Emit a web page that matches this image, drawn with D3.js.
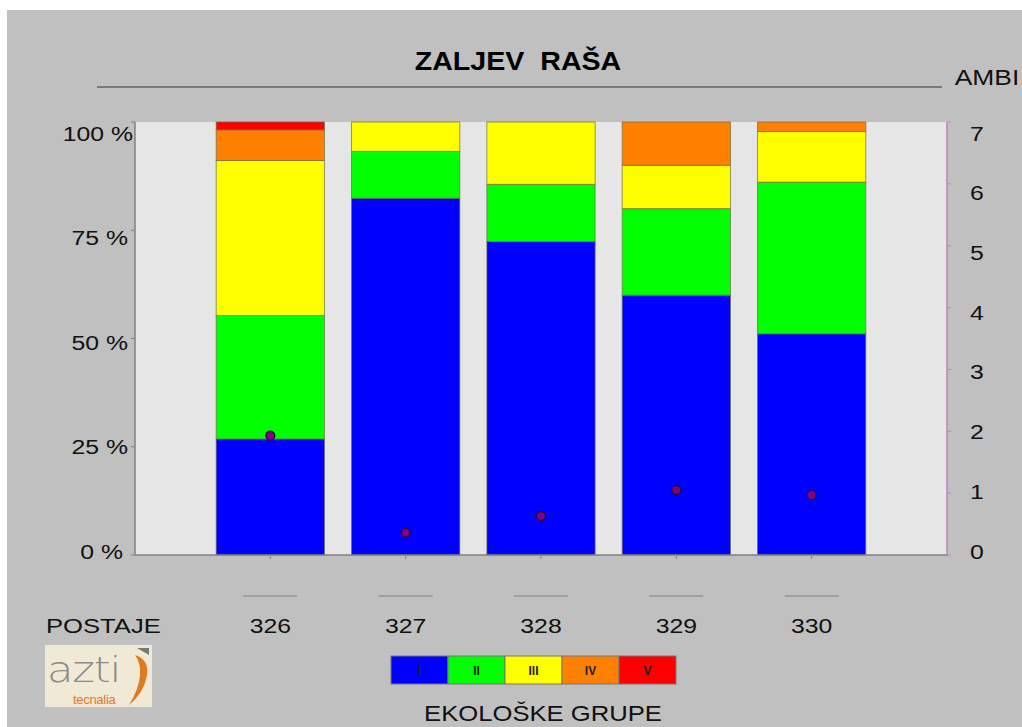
<!DOCTYPE html>
<html>
<head>
<meta charset="utf-8">
<script src="https://cdn.jsdelivr.net/npm/d3@7"></script>
<style>
  html, body { margin: 0; padding: 0; background: #ffffff; }
  svg { display: block; font-family: "Liberation Sans", Arial, sans-serif; }
  text { white-space: pre; }
</style>
</head>
<body>
<svg id="chart" width="1022" height="727"></svg>
<script>
// Stations (POSTAJE)
const stations = ["326", "327", "328", "329", "330"];
// Ecological groups, share of abundance (%) per station
const groups = ["I", "II", "III", "IV", "V"];
const groupColors = ["#0000ff", "#00ff00", "#ffff00", "#ff8000", "#ff0000"];
const groupI   = [26.8, 82.4, 72.4, 60.0, 51.1];
const groupII  = [28.5, 10.8, 13.2, 20.0, 35.0];
const groupIII = [35.8,  6.8, 14.4, 10.0, 11.7];
const groupIV  = [ 7.1,  0.0,  0.0, 10.0,  2.2];
const groupV   = [ 1.8,  0.0,  0.0,  0.0,  0.0];
// AMBI index per station
const ambi = [1.93, 0.36, 0.63, 1.05, 0.97];
// Axis ticks
const pctTicks = [0, 25, 50, 75, 100];
const ambiTicks = [0, 1, 2, 3, 4, 5, 6, 7];

const svg = d3.select("#chart");
const SX = 1.18; // the chart's lettering is set slightly wide

// Places a horizontally widened text at (x, y)
function wideText(parent, x, y, str, size, anchor, sx) {
  return parent.append("text")
    .attr("transform", `translate(${x},${y}) scale(${sx || SX},1)`)
    .attr("text-anchor", anchor || "start")
    .attr("font-size", size)
    .attr("fill", "#111")
    .text(str);
}

// Panel background
svg.append("rect").attr("x", 7).attr("y", 10).attr("width", 1015).attr("height", 717)
  .attr("fill", "#c0c0c0");

const plot = { left: 135, right: 947, top: 122, bottom: 555 };

const x = d3.scalePoint().domain(stations).range([plot.left, plot.right]).padding(1);
const barW = x.step() * 0.8;
const y = d3.scaleLinear().domain([0, 100]).range([plot.bottom, plot.top]);
const yA = d3.scaleLinear().domain([0, 7]).range([plot.bottom, plot.top]);
// Tick labels are spread over a slightly tighter band than the ticks themselves
const yLabP = d3.scaleLinear().domain([0, 100]).range([551, 133]);
const yLabA = d3.scaleLinear().domain([0, 7]).range([551, 133]);

// Plot area
svg.append("rect")
  .attr("x", plot.left).attr("y", plot.top)
  .attr("width", plot.right - plot.left).attr("height", plot.bottom - plot.top)
  .attr("fill", "#e6e6e6");

// Stacked bars
const rows = stations.map((s, i) => ({
  station: s, I: groupI[i], II: groupII[i], III: groupIII[i], IV: groupIV[i], V: groupV[i]
}));
const stack = d3.stack().keys(groups)(rows);

const layers = svg.append("g").selectAll("g").data(stack).join("g")
  .attr("fill", (d, i) => groupColors[i]);
layers.selectAll("rect").data(d => d.filter(p => p[1] - p[0] > 0)).join("rect")
  .attr("x", d => x(d.data.station) - barW / 2)
  .attr("width", barW)
  .attr("y", d => y(d[1]))
  .attr("height", d => y(d[0]) - y(d[1]))
  .attr("stroke", "#6e6e46")
  .attr("stroke-width", 1)
  .attr("stroke-opacity", 0.7);

// Left percentage axis
const gL = svg.append("g");
gL.append("line").attr("x1", plot.left).attr("x2", plot.left)
  .attr("y1", plot.top).attr("y2", plot.bottom).attr("stroke", "#808080").attr("stroke-width", 1.5);
gL.selectAll("line.t").data(pctTicks).join("line").attr("class", "t")
  .attr("x1", plot.left - 4).attr("x2", plot.left)
  .attr("y1", d => y(d)).attr("y2", d => y(d)).attr("stroke", "#808080");
pctTicks.forEach(d => {
  const xr = d === 100 ? 133 : (d === 0 ? 123 : 128);
  wideText(gL, xr, yLabP(d) + 7.5, d + " %", 21, "end");
});

// Right AMBI axis
const gR = svg.append("g");
gR.append("line").attr("x1", plot.right).attr("x2", plot.right)
  .attr("y1", plot.top).attr("y2", plot.bottom).attr("stroke", "#c080c0").attr("stroke-width", 1.5);
gR.selectAll("line.t").data(ambiTicks).join("line").attr("class", "t")
  .attr("x1", plot.right).attr("x2", plot.right + 4)
  .attr("y1", d => yA(d)).attr("y2", d => yA(d)).attr("stroke", "#c080c0");
ambiTicks.forEach(d => wideText(gR, 977, yLabA(d) + 7.5, String(d), 21, "middle"));

// Bottom axis
const gB = svg.append("g");
gB.append("line").attr("x1", plot.left).attr("x2", plot.right)
  .attr("y1", plot.bottom).attr("y2", plot.bottom).attr("stroke", "#808080").attr("stroke-width", 1.5);
gB.selectAll("line.t").data(stations).join("line").attr("class", "t")
  .attr("x1", d => x(d)).attr("x2", d => x(d))
  .attr("y1", plot.bottom).attr("y2", plot.bottom + 4).attr("stroke", "#808080");

// AMBI points
svg.append("g").selectAll("circle").data(stations).join("circle")
  .attr("cx", d => x(d))
  .attr("cy", (d, i) => yA(ambi[i]))
  .attr("r", 4.5)
  .attr("fill", "#800080")
  .attr("stroke", "#1a0a2a")
  .attr("stroke-width", 1.2);

// Title
wideText(svg, 518, 70, "ZALJEV  RAŠA", 26, "middle", 1.1)
  .attr("font-weight", "bold").attr("fill", "#000");
svg.append("line").attr("x1", 97).attr("x2", 942).attr("y1", 87).attr("y2", 87)
  .attr("stroke", "#333").attr("stroke-width", 1.2);
wideText(svg, 987, 85, "AMBI", 22, "middle", 1.2);

// Station labels
const gS = svg.append("g");
gS.selectAll("line").data(stations).join("line")
  .attr("x1", d => x(d) - 27).attr("x2", d => x(d) + 27)
  .attr("y1", 596).attr("y2", 596).attr("stroke", "#808080").attr("stroke-width", 1);
stations.forEach(s => wideText(gS, x(s), 633, s, 21, "middle"));
wideText(svg, 46, 633, "POSTAJE", 21, "start", 1.22);

// Legend of ecological groups
const lg = d3.scaleBand().domain(groups).range([391, 676]);
const gLeg = svg.append("g");
gLeg.selectAll("rect").data(groups).join("rect")
  .attr("x", d => lg(d)).attr("y", 656).attr("width", lg.bandwidth()).attr("height", 28)
  .attr("fill", (d, i) => groupColors[i]).attr("stroke", "#777").attr("stroke-width", 1);
gLeg.selectAll("text").data(groups).join("text")
  .attr("x", d => lg(d) + lg.bandwidth() / 2).attr("y", 675).attr("text-anchor", "middle")
  .attr("font-size", 12).attr("font-weight", "bold").attr("fill", "#222").text(d => d);
wideText(svg, 543, 721, "EKOLOŠKE GRUPE", 22, "middle", 1.165);

// azti tecnalia logo
const logo = svg.append("g").attr("transform", "translate(45,645)");
logo.append("rect").attr("width", 107).attr("height", 62).attr("fill", "#efe9d6");
logo.append("text").attr("transform", "translate(2,37) scale(1.2,1)").attr("font-size", 36)
  .attr("font-family", "DejaVu Sans, sans-serif").attr("font-weight", 300)
  .attr("fill", "#8a8d86").attr("letter-spacing", -1).text("azti");
logo.append("text").attr("x", 28).attr("y", 59).attr("font-size", 13)
  .attr("fill", "#e07a2a").attr("letter-spacing", -0.3).text("tecnalia");
logo.append("path")
  .attr("d", "M90,10 Q104,14 102,30 Q99,48 84,60 Q94,44 95,30 Q96,18 90,10 Z")
  .attr("fill", "#e07a1c");
logo.append("path").attr("d", "M92,3 L104,3 L104,10 Z").attr("fill", "#777a74");
</script>
</body>
</html>
